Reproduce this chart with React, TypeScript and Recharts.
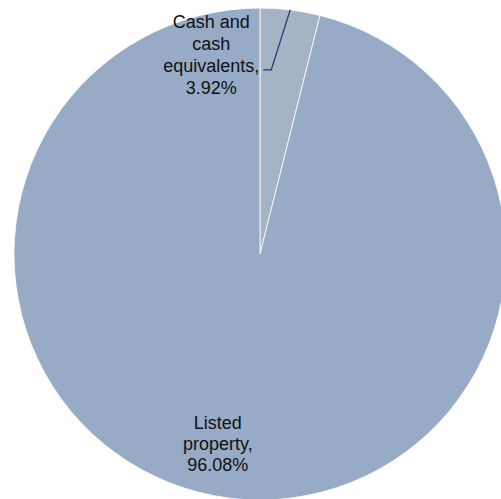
import React from 'react';
import { PieChart, Pie, Cell } from 'recharts';

const categories = ['Cash and cash equivalents', 'Listed property'];
const values = [3.92, 96.08];
const labelLines = [
  ['Cash and', 'cash', 'equivalents,', '3.92%'],
  ['Listed', 'property,', '96.08%'],
];
const colors = ['#a4b4c5', '#97abc7'];

const data = categories.map((name, i) => ({ name, value: values[i] }));

const RAD = Math.PI / 180;
const FONT = '"Liberation Sans", Arial, sans-serif';

function renderLabel(props: any) {
  const { cx, cy, midAngle, outerRadius, index } = props;
  const lines = labelLines[index];
  if (index === 0) {
    // outside label with elbow leader line
    const sx = cx + outerRadius * Math.cos(-midAngle * RAD);
    const sy = cy + outerRadius * Math.sin(-midAngle * RAD);
    const ex = sx - 19;
    const ey = sy + 60;
    const tx = ex - 8;
    const textX = tx - 52;
    const top = ey - 42;
    return (
      <g>
        <polyline points={`${sx},${sy} ${ex},${ey} ${tx},${ey}`} fill="none" stroke="#1f3c78" strokeWidth={1.3} />
        <text x={textX} y={top} textAnchor="middle" fontFamily={FONT} fontSize={18} fill="#111">
          {lines.map((l, i) => (
            <tspan key={i} x={textX} dy={i === 0 ? 0 : 22}>{l}</tspan>
          ))}
        </text>
      </g>
    );
  }
  const r = outerRadius * 0.8;
  const x = cx + r * Math.cos(-midAngle * RAD) - 18;
  const y = cy + r * Math.sin(-midAngle * RAD) - 20;
  return (
    <text x={x} y={y} textAnchor="middle" fontFamily={FONT} fontSize={18} fill="#111">
      {lines.map((l, i) => (
        <tspan key={i} x={x} dy={i === 0 ? 0 : 21}>{l}</tspan>
      ))}
    </text>
  );
}

export default function App() {
  return (
    <div style={{ position: 'absolute', left: 0, top: 0, width: 501, height: 499, background: '#fff' }}>
      <PieChart width={501} height={499} margin={{ top: 0, right: 0, bottom: 0, left: 0 }}>
        <Pie
          data={data}
          dataKey="value"
          nameKey="name"
          cx={260}
          cy={254}
          outerRadius={246}
          startAngle={90}
          endAngle={-270}
          stroke="#ffffff"
          strokeWidth={0.8}
          label={renderLabel}
          labelLine={false}
          isAnimationActive={false}
        >
          {data.map((d, i) => (
            <Cell key={d.name} fill={colors[i]} />
          ))}
        </Pie>
      </PieChart>
    </div>
  );
}
